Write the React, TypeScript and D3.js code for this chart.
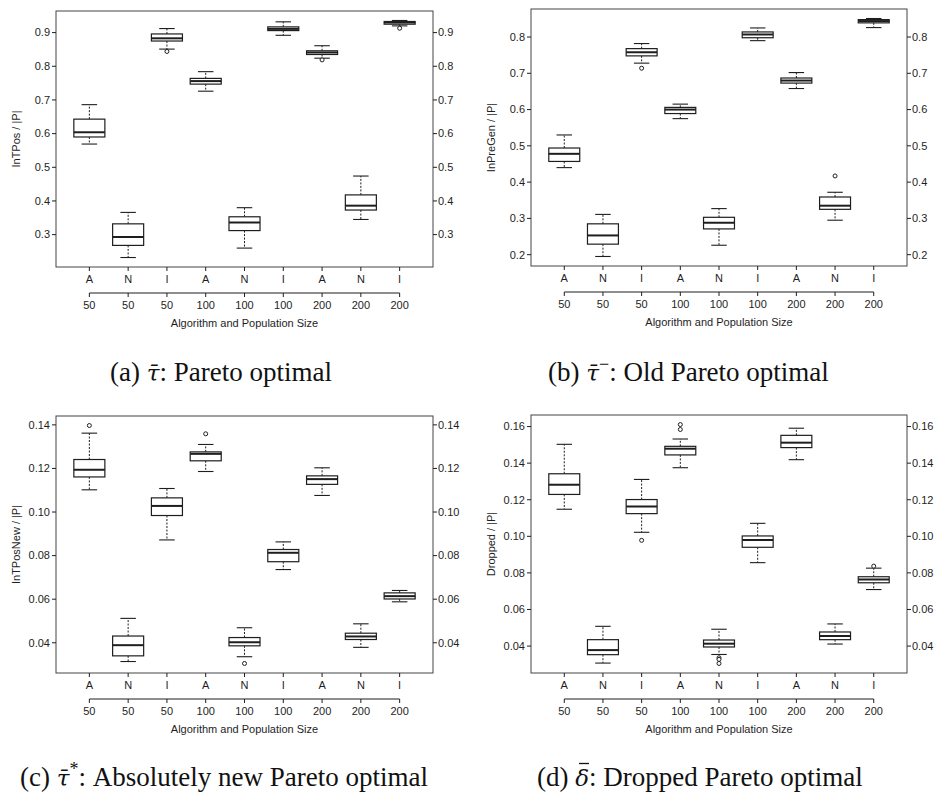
import * as d3 from "d3";

const algorithms = ["A", "N", "I", "A", "N", "I", "A", "N", "I"];
const popSizes = ["50", "50", "50", "100", "100", "100", "200", "200", "200"];

// each box: [lower whisker, Q1, median, Q3, upper whisker]
const paretoStats = [
  [0.569, 0.59, 0.604, 0.643, 0.686],
  [0.232, 0.268, 0.293, 0.332, 0.366],
  [0.851, 0.875, 0.883, 0.896, 0.912],
  [0.726, 0.747, 0.756, 0.764, 0.784],
  [0.26, 0.312, 0.336, 0.353, 0.38],
  [0.892, 0.906, 0.911, 0.917, 0.932],
  [0.824, 0.835, 0.841, 0.846, 0.861],
  [0.345, 0.373, 0.386, 0.418, 0.474],
  [0.92, 0.925, 0.93, 0.933, 0.936],
];
const paretoOutliers = [[], [], [0.844], [], [], [], [0.819], [], [0.913]];
const paretoTicks = [0.3, 0.4, 0.5, 0.6, 0.7, 0.8, 0.9];

const oldStats = [
  [0.44, 0.457, 0.478, 0.494, 0.53],
  [0.195, 0.229, 0.253, 0.285, 0.311],
  [0.728, 0.748, 0.758, 0.768, 0.782],
  [0.575, 0.589, 0.6, 0.606, 0.615],
  [0.226, 0.271, 0.288, 0.303, 0.327],
  [0.79, 0.798, 0.807, 0.814, 0.825],
  [0.658, 0.673, 0.68, 0.687, 0.702],
  [0.295, 0.325, 0.335, 0.359, 0.372],
  [0.826, 0.839, 0.844, 0.848, 0.851],
];
const oldOutliers = [[], [], [0.714], [], [], [], [], [0.417], []];
const oldTicks = [0.2, 0.3, 0.4, 0.5, 0.6, 0.7, 0.8];

const newStats = [
  [0.1102, 0.1161, 0.1194, 0.1241, 0.1362],
  [0.0314, 0.034, 0.0389, 0.0431, 0.0512],
  [0.0872, 0.0984, 0.1028, 0.1065, 0.1108],
  [0.1186, 0.1235, 0.1267, 0.1276, 0.131],
  [0.0336, 0.0386, 0.0402, 0.0424, 0.0469],
  [0.0736, 0.0772, 0.0813, 0.0828, 0.0863],
  [0.1076, 0.1127, 0.1151, 0.1166, 0.1203],
  [0.0379, 0.0415, 0.0429, 0.0444, 0.0487],
  [0.0588, 0.0601, 0.0614, 0.0629, 0.064],
];
const newOutliers = [[0.1397], [], [], [0.1359], [0.0305], [], [], [], []];
const newTicks = [0.04, 0.06, 0.08, 0.1, 0.12, 0.14];

const droppedStats = [
  [0.1148, 0.1229, 0.1282, 0.1342, 0.1503],
  [0.0307, 0.0353, 0.0378, 0.0435, 0.0508],
  [0.1022, 0.1124, 0.1163, 0.1201, 0.1311],
  [0.1375, 0.1445, 0.1479, 0.1492, 0.1532],
  [0.0354, 0.0395, 0.0413, 0.0433, 0.0492],
  [0.0856, 0.094, 0.098, 0.1002, 0.1071],
  [0.1419, 0.1485, 0.1512, 0.1552, 0.1591],
  [0.0411, 0.0435, 0.0455, 0.0477, 0.0521],
  [0.0709, 0.0746, 0.0764, 0.0779, 0.0826],
];
const droppedOutliers = [
  [], [], [0.0978], [0.1611, 0.1584], [0.0336, 0.0327, 0.0305], [], [], [], [0.0837],
];
const droppedTicks = [0.04, 0.06, 0.08, 0.1, 0.12, 0.14, 0.16];

const INK = "#1e1e1e";
const SANS = "'Liberation Sans', Arial, Helvetica, sans-serif";
const SERIF = "'Liberation Serif', 'Times New Roman', serif";
const MATH = "'DejaVu Serif', serif";

type Rect = { left: number; right: number; top: number; bottom: number };

type PanelProps = {
  rect: Rect;
  stats: number[][];
  outliers: number[][];
  ticks: number[];
  fmt: (v: number) => string;
  yLabel: string;
};

const BoxPanel = ({ rect, stats, outliers, ticks, fmt, yLabel }: PanelProps) => {
  const n = stats.length;
  // R style axis: 4% padding on both scales
  const xScale = d3
    .scaleLinear()
    .domain([0.5 - 0.04 * n, n + 0.5 + 0.04 * n])
    .range([rect.left, rect.right]);

  const all = stats.flat().concat(outliers.flat());
  const [lo, hi] = d3.extent(all) as [number, number];
  const pad = (hi - lo) * 0.04;
  const yScale = d3
    .scaleLinear()
    .domain([lo - pad, hi + pad])
    .range([rect.bottom, rect.top]);

  const lowerAxisY = rect.bottom + 26;
  const midY = (rect.top + rect.bottom) / 2;
  const midX = (rect.left + rect.right) / 2;

  return (
    <g fontFamily={SANS} fontSize={11} fill={INK}>
      <rect
        x={rect.left}
        y={rect.top}
        width={rect.right - rect.left}
        height={rect.bottom - rect.top}
        fill="none"
        stroke="#444"
        strokeWidth={1}
      />

      {stats.map((s, i) => {
        const cx = xScale(i + 1);
        const bx0 = xScale(i + 1 - 0.4);
        const bx1 = xScale(i + 1 + 0.4);
        const cx0 = xScale(i + 1 - 0.2);
        const cx1 = xScale(i + 1 + 0.2);
        const [wLo, q1, med, q3, wHi] = s;
        return (
          <g key={i} stroke={INK} fill="none">
            <line x1={cx} x2={cx} y1={yScale(q3)} y2={yScale(wHi)} strokeDasharray="2,1.5" strokeWidth={1} />
            <line x1={cx} x2={cx} y1={yScale(q1)} y2={yScale(wLo)} strokeDasharray="2,1.5" strokeWidth={1} />
            <line x1={cx0} x2={cx1} y1={yScale(wHi)} y2={yScale(wHi)} strokeWidth={1.1} />
            <line x1={cx0} x2={cx1} y1={yScale(wLo)} y2={yScale(wLo)} strokeWidth={1.1} />
            <rect
              x={bx0}
              y={yScale(q3)}
              width={bx1 - bx0}
              height={yScale(q1) - yScale(q3)}
              fill="white"
              strokeWidth={1.2}
            />
            <line x1={bx0} x2={bx1} y1={yScale(med)} y2={yScale(med)} strokeWidth={2} />
            {outliers[i].map((o, j) => (
              <circle key={j} cx={cx} cy={yScale(o)} r={2} strokeWidth={1} fill="white" />
            ))}
          </g>
        );
      })}

      {/* left and right value axes */}
      {ticks.map((t) => (
        <g key={t}>
          <line x1={rect.left - 4} x2={rect.left} y1={yScale(t)} y2={yScale(t)} stroke={INK} />
          <text x={rect.left - 6} y={yScale(t)} dy="0.35em" textAnchor="end">
            {fmt(t)}
          </text>
          <line x1={rect.right} x2={rect.right + 4} y1={yScale(t)} y2={yScale(t)} stroke={INK} />
          <text x={rect.right + 5} y={yScale(t)} dy="0.35em" textAnchor="start">
            {fmt(t)}
          </text>
        </g>
      ))}

      {/* algorithm labels */}
      {algorithms.map((a, i) => (
        <g key={"a" + i}>
          <line
            x1={xScale(i + 1)}
            x2={xScale(i + 1)}
            y1={rect.bottom}
            y2={rect.bottom + 4}
            stroke={INK}
          />
          <text x={xScale(i + 1)} y={rect.bottom + 16} textAnchor="middle">
            {a}
          </text>
        </g>
      ))}

      {/* population size axis */}
      <line
        x1={xScale(1)}
        x2={xScale(n)}
        y1={lowerAxisY}
        y2={lowerAxisY}
        stroke={INK}
        strokeWidth={1.2}
      />
      {popSizes.map((p, i) => (
        <g key={"p" + i}>
          <line
            x1={xScale(i + 1)}
            x2={xScale(i + 1)}
            y1={lowerAxisY}
            y2={lowerAxisY + 4}
            stroke={INK}
          />
          <text x={xScale(i + 1)} y={rect.bottom + 42} textAnchor="middle">
            {p}
          </text>
        </g>
      ))}

      <text x={midX} y={rect.bottom + 60} textAnchor="middle">
        Algorithm and Population Size
      </text>
      <text
        transform={`translate(${rect.left - 40},${midY}) rotate(-90)`}
        textAnchor="middle"
        dy="0.35em"
      >
        {yLabel}
      </text>
    </g>
  );
};

const f1 = d3.format(".1f");
const f2 = d3.format(".2f");

const Sym = ({ ch }: { ch: string }) => (
  <tspan fontFamily={MATH} fontStyle="italic" fontSize={23}>
    {ch}
  </tspan>
);

export default function App() {
  return (
    <svg
      width={939}
      height={796}
      style={{ position: "absolute", left: 0, top: 0, background: "white" }}
    >
      <rect width={939} height={796} fill="white" />
      <BoxPanel
        rect={{ left: 56, right: 433, top: 11, bottom: 267 }}
        stats={paretoStats}
        outliers={paretoOutliers}
        ticks={paretoTicks}
        fmt={f1}
        yLabel="InTPos / |P|"
      />
      <BoxPanel
        rect={{ left: 531, right: 907, top: 9, bottom: 266 }}
        stats={oldStats}
        outliers={oldOutliers}
        ticks={oldTicks}
        fmt={f1}
        yLabel="InPreGen / |P|"
      />
      <BoxPanel
        rect={{ left: 56, right: 433, top: 416, bottom: 673 }}
        stats={newStats}
        outliers={newOutliers}
        ticks={newTicks}
        fmt={f2}
        yLabel="InTPosNew / |P|"
      />
      <BoxPanel
        rect={{ left: 531, right: 907, top: 415, bottom: 673 }}
        stats={droppedStats}
        outliers={droppedOutliers}
        ticks={droppedTicks}
        fmt={f2}
        yLabel="Dropped / |P|"
      />

      <g fontFamily={SERIF} fontSize={27} fill="#111">
        <text x={110} y={381}>
          (a) <Sym ch={"\u03C4\u0304"} />: Pareto optimal
        </text>
        <text x={548} y={381}>
          (b) <Sym ch={"\u03C4\u0304"} />
          <tspan fontSize={18} dy={-11}>{"\u2212"}</tspan>
          <tspan dy={11}>: Old Pareto optimal</tspan>
        </text>
        <text x={20} y={786}>
          (c) <Sym ch={"\u03C4\u0304"} />
          <tspan fontSize={18} dy={-11}>*</tspan>
          <tspan dy={11}>: Absolutely new Pareto optimal</tspan>
        </text>
        <text x={537} y={786}>
          (d) <Sym ch={"\u03B4"} />: Dropped Pareto optimal
        </text>
      </g>
      {/* bar over delta */}
      <line x1={579} x2={589} y1={763.5} y2={763.5} stroke="#111" strokeWidth={1.3} />
    </svg>
  );
}
